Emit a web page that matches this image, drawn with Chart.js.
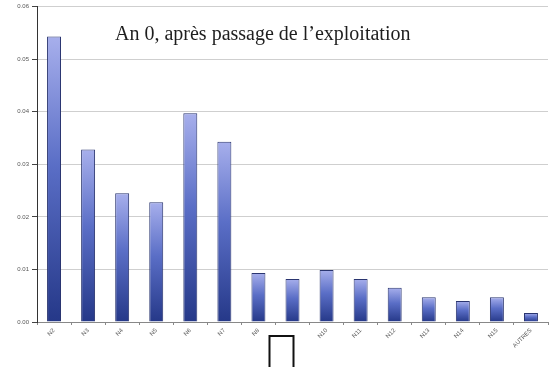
<!DOCTYPE html>
<html><head><meta charset="utf-8">
<script src="https://cdn.jsdelivr.net/npm/chart.js@4"></script>
<style>html,body{margin:0;padding:0;background:#fff}#w{width:556px;height:367px}</style>
</head><body><div id="w"><canvas id="c"></canvas></div>
<script>
const categories = ["N2","N3","N4","N5","N6","N7","N8","N9","N10","N11","N12","N13","N14","N15","AUTRES"];
const values = [0.0543,0.0328,0.0245,0.0228,0.0397,0.0343,0.0093,0.0082,0.0099,0.0082,0.0065,0.0047,0.0040,0.0047,0.0017];
const yTicks = [0,0.01,0.02,0.03,0.04,0.05,0.06];
const hiddenLabel = "N9";
const titleText = "An 0, après passage de l\u2019exploitation";

function barGradient(ctx){
  const chart = ctx.chart;
  const area = chart.chartArea;
  if(!area || ctx.type !== 'data') return '#4a5cb0';
  const y = chart.scales.y;
  const top = y.getPixelForValue(values[ctx.dataIndex]);
  const bot = y.getPixelForValue(0);
  const g = chart.ctx.createLinearGradient(0, top, 0, bot);
  g.addColorStop(0, '#a7afec');
  g.addColorStop(0.45, '#5a6ec6');
  g.addColorStop(1, '#253888');
  return g;
}

const overlay = {
  id:'overlay',
  afterDraw(chart){
    const c = chart.ctx, a = chart.chartArea;
    c.save();
    c.font = '20px "Liberation Serif", "Times New Roman", serif';
    c.fillStyle = '#1e1e1e';
    c.textAlign = 'left'; c.textBaseline = 'alphabetic';
    c.fillText(titleText, a.left + 78, a.top + 33);
    const xs = chart.scales.x;
    const cx = xs.getPixelForValue(categories.indexOf(hiddenLabel));
    c.fillStyle = '#fff';
    c.fillRect(cx - 23, a.bottom + 14, 24, 40);
    c.strokeStyle = '#111'; c.lineWidth = 2;
    c.strokeRect(cx - 23, a.bottom + 14, 24, 40);
    c.restore();
  }
};

new Chart(document.getElementById('c'), {
  type:'bar',
  data:{labels:categories, datasets:[{data:values, backgroundColor:barGradient, borderColor:'#2a3570', borderWidth:1, categoryPercentage:1, barPercentage:0.41}]},
  options:{
    responsive:true, maintainAspectRatio:false, animation:false,
    layout:{padding:{top:6,right:8,left:0,bottom:0}},
    plugins:{legend:{display:false}, tooltip:{enabled:false}, title:{display:false}},
    scales:{
      x:{
        offset:true,
        grid:{display:true, drawOnChartArea:false, drawTicks:true, tickLength:3, offset:true, color:'#888'},
        border:{color:'#888'},
        ticks:{minRotation:45, maxRotation:45, autoSkip:false, padding:2, color:'#555',
          font:{size:6, family:'"Liberation Sans", Arial, sans-serif'},
          callback:function(v,i){ return categories[i]===hiddenLabel ? '' : categories[i]; }},
        afterFit(s){ s.height = 45; }
      },
      y:{
        min:0, max:0.06,
        afterBuildTicks(s){ s.ticks = yTicks.map(v=>({value:v})); },
        grid:{color:'#cfcfcf', tickColor:'#444', tickLength:5, lineWidth:1},
        border:{color:'#333', width:1},
        ticks:{color:'#555', padding:3, font:{size:6, family:'"Liberation Sans", Arial, sans-serif'},
          callback:v=>v.toFixed(2)},
        afterFit(s){ s.width = 37; }
      }
    }
  },
  plugins:[overlay]
});
</script></body></html>
